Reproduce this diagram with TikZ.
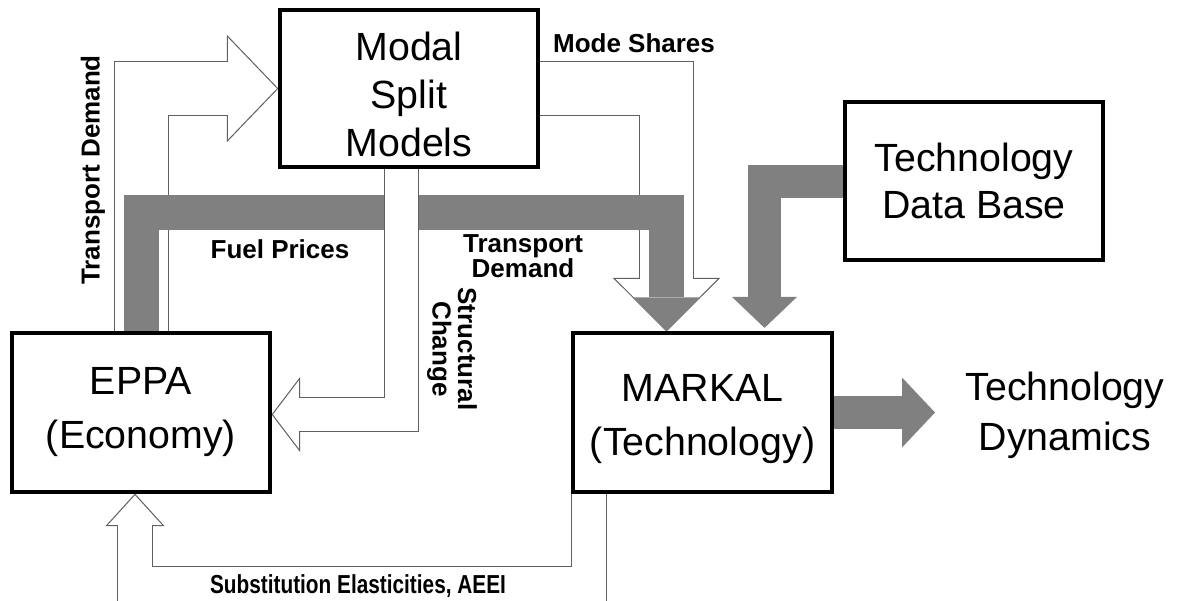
\documentclass[tikz,border=0pt]{standalone}
\usepackage{fontspec}
\setmainfont{Liberation Sans}
\usetikzlibrary{arrows.meta,calc}
\pgfdeclarelayer{background}
\pgfsetlayers{background,main}
\definecolor{flowgray}{RGB}{128,128,128}
\definecolor{edgegray}{RGB}{96,96,96}

\tikzset{every picture/.style={line width=0.75pt}}
\tikzset{
  model/.style={draw, line width=2.4pt, fill=white, inner sep=0pt, align=center},
  bigtext/.style={font=\fontsize{29.5pt}{#1}\selectfont},
  lbl/.style={font=\fontsize{19.5pt}{19pt}\selectfont\bfseries, inner sep=0pt, align=center},
  grayflow/.style n args={3}{draw=flowgray, line width=#1, line join=miter,
    -{Triangle[length=#2 0 0, width=#3 0 0, line width=0pt 0 0]}},
  hollowedge/.style n args={3}{draw=edgegray, line width=#1, line join=miter,
    -{Triangle[length=#2 0 0, width=#3 0 0, line width=0.75pt 0 0, fill=white]}},
  hollowcore/.style n args={2}{draw=white, line width=#1, line join=miter, shorten >=#2},
}

\begin{document}
\begin{tikzpicture}[x=0.75pt,y=0.75pt,yscale=-1,xscale=1]
\useasboundingbox (0,0) rectangle (1177,600);

%Shape: Rectangle [Modal Split Models]
\node[model, bigtext=36pt, minimum width=193.5pt, minimum height=117.75pt, text height=102.5pt] (msm) at (409,88.5) {Modal\\Split\\Models};
%Shape: Rectangle [EPPA]
\node[model, bigtext=40.5pt, minimum width=193.5pt, minimum height=119.25pt] (eppa) at (141,412.5) {EPPA\\(Economy)};
%Shape: Rectangle [MARKAL]
\node[model, bigtext=40.5pt, minimum width=194.25pt, minimum height=119.25pt, text height=69.9pt] (markal) at (702.5,412.5) {MARKAL\\(Technology)};
%Shape: Rectangle [Technology Data Base]
\node[model, bigtext=35.25pt, minimum width=193.5pt, minimum height=118.5pt] (tdb) at (974,181) {Technology\\Data Base};
% Text Node
\node[bigtext=37.5pt, inner sep=0pt, align=center] (dyn) at (1065,415) {Technology\\Dynamics};

\begin{pgfonlayer}{background}
%Block Arrow: EPPA to Modal Split
\draw[hollowedge={41.25pt}{38.6pt}{80.25pt}] (eppa.north) |- (msm.west);
\draw[hollowcore={39.75pt}{37.5pt}] (eppa.north) |- (msm.west);
%Block Arrow: Modal Split to MARKAL
\draw[hollowedge={41.25pt}{40.1pt}{80.25pt}] (msm.east) -| ($(markal.north)+(-36,0)$);
\draw[hollowcore={39.75pt}{39pt}] (msm.east) -| ($(markal.north)+(-36,0)$);
%Block Arrow: EPPA to MARKAL
\draw[grayflow={26.25pt}{25.5pt}{51pt}] (eppa.north) -- ++(0,-119) -| ($(markal.north)+(-36,0)$);
%Block Arrow: Modal Split to EPPA
\draw[hollowedge={26.25pt}{21.4pt}{56.25pt}] ($(msm.south)+(-7.5,0)$) |- ($(eppa.east)+(0,2)$);
\draw[hollowcore={24.75pt}{20.25pt}] ($(msm.south)+(-7.5,0)$) |- ($(eppa.east)+(0,2)$);
%Block Arrow: MARKAL to EPPA
\draw[hollowedge={27pt}{24.4pt}{44.25pt}] ($(markal.south)+(-113.5,0)$) -- ++(0,90) -| ($(eppa.south)+(-6,0)$);
\draw[hollowcore={25.5pt}{23.25pt}] ($(markal.south)+(-113.5,0)$) -- ++(0,90) -| ($(eppa.south)+(-6,0)$);
%Block Arrow: Technology Data Base to MARKAL
\draw[grayflow={24.75pt}{23.25pt}{48.75pt}] (tdb.west) -| ($(markal.north)+(62,-3.5)$);
%Block Arrow: MARKAL to Technology Dynamics
\draw[grayflow={24.75pt}{24.75pt}{52.5pt}, shorten >=22.5pt] (markal.east) -- (markal.east -| dyn.west);
\end{pgfonlayer}

% Text Node
\node[lbl, rotate=90] (tdlbl) at (93,170) {Transport Demand};
% Text Node
\node[lbl] (fplbl) at (280,249) {Fuel Prices};
% Text Node
\node[lbl] (mslbl) at (634,43) {Mode Shares};
% Text Node
\node[lbl] (tdlbl2) at (523,256) {Transport\\Demand};
% Text Node
\node[lbl, rotate=-90] (sclbl) at (452,349) {Structural\\Change};
% Text Node
\node[lbl] (selbl) at (358,586) {\scalebox{0.8}[1]{Substitution Elasticities, AEEI}};

\end{tikzpicture}
\end{document}
